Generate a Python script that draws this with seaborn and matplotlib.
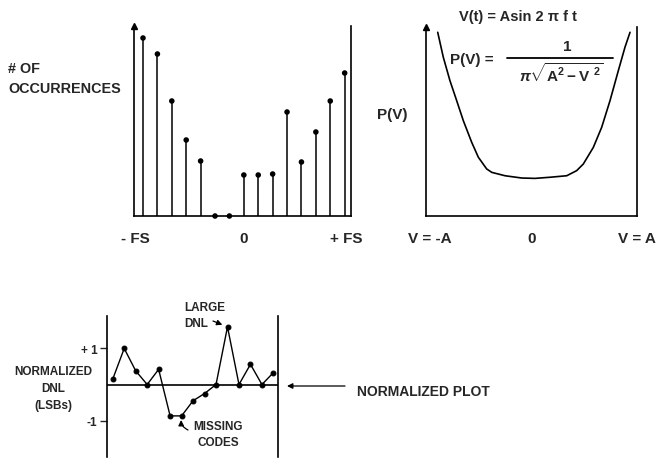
import matplotlib
matplotlib.use("Agg")
import matplotlib.pyplot as plt
import seaborn as sns

# top left: histogram of output codes (counts in arbitrary units)
codes = list(range(15))
occurrences = [178, 162, 115, 76, 55, 0, 0, 41, 41, 42, 104, 54, 84, 115, 143]
hist_tick_pos = [-0.56, 7, 14.1]
hist_ticks = ["- FS", "0", "+ FS"]

# top right: P(V) curve (V relative to A)
v_points = [-0.889, -0.836, -0.773, -0.709, -0.646, -0.567, -0.504, -0.425, -0.377, -0.251,
            -0.093, 0.033, 0.175, 0.334, 0.428, 0.491, 0.586, 0.665, 0.744, 0.823, 0.886, 0.934]
p_points = [0.972, 0.840, 0.716, 0.610, 0.504, 0.390, 0.311, 0.249, 0.231, 0.213,
            0.201, 0.199, 0.205, 0.213, 0.240, 0.275, 0.363, 0.469, 0.610, 0.769, 0.893, 0.972]
pv_tick_pos = [-0.96, 0, 1.0]
pv_ticks = ["V = -A", "0", "V = A"]

# bottom: normalized DNL in LSBs
dnl = [0.15, 1.0, 0.38, 0.0, 0.42, -0.87, -0.87, -0.45, -0.25, 0.0, 1.6, 0.0, 0.56, 0.0, 0.33]
dnl_tick_pos = [1, -1]
dnl_ticks = ["+ 1", "-1"]

sns.set_style("white")
plt.rcParams["font.family"] = ["Liberation Sans", "DejaVu Sans"]
plt.rcParams["font.weight"] = "bold"
plt.rcParams["mathtext.fontset"] = "custom"
plt.rcParams["mathtext.rm"] = "Liberation Sans:bold"
plt.rcParams["mathtext.it"] = "Liberation Sans:bold:italic"
plt.rcParams["mathtext.bf"] = "Liberation Sans:bold"

W, H = 658, 460
fig = plt.figure(figsize=(W / 100, H / 100), dpi=100)


def box(l, t, r, b):
    return [l / W, 1 - b / H, (r - l) / W, (b - t) / H]


def px(x, y):
    return x / W, 1 - y / H


def axis_arrow(ax):
    ax.plot(0, 1, marker="^", color="k", ms=5, transform=ax.transAxes, clip_on=False)


# --- histogram ---
ax1 = fig.add_axes(box(134, 27, 351, 217))
ax1.vlines(codes, 0, occurrences, color="k", lw=1.1)
sns.scatterplot(x=codes, y=occurrences, ax=ax1, color="k", s=16, edgecolor="none")
ax1.collections[-1].set_clip_on(False)
ax1.set_xlim(-0.625, 14.44)
ax1.set_ylim(0, 190)
ax1.set_xticks(hist_tick_pos, hist_ticks)
ax1.set_yticks([])
ax1.tick_params(axis="x", length=0, pad=11, labelsize=11)
axis_arrow(ax1)

# --- P(V) ---
ax2 = fig.add_axes(box(426, 28, 637, 217))
sns.lineplot(x=v_points, y=p_points, ax=ax2, color="k", lw=1.2)
ax2.set_xlim(-1, 1)
ax2.set_ylim(0, 1)
ax2.set_xticks(pv_tick_pos, pv_ticks)
ax2.set_xticks([0], minor=True)
ax2.set_yticks([])
ax2.tick_params(axis="x", which="major", length=0, pad=11, labelsize=11)
ax2.tick_params(axis="x", which="minor", length=5, direction="inout", bottom=True, width=1)
axis_arrow(ax2)

for ax in (ax1, ax2):
    ax.spines["top"].set_visible(False)
    for s in ("left", "bottom", "right"):
        ax.spines[s].set_linewidth(1.2)
        ax.spines[s].set_color("k")

# --- DNL ---
ax3 = fig.add_axes(box(107, 317, 278, 458))
ax3.axhline(0, color="k", lw=1.2)
sns.lineplot(x=codes, y=dnl, ax=ax3, color="k", lw=1, marker="o", ms=3.5, mec="k")
ax3.set_xlim(-0.5, 14.4)
ax3.set_ylim(-2.01, 1.9)
ax3.set_xticks([])
ax3.set_yticks(dnl_tick_pos, dnl_ticks)
ax3.tick_params(axis="y", left=True, length=5, width=1, pad=2, labelsize=8.5)
ax3.spines["top"].set_visible(False)
ax3.spines["bottom"].set_visible(False)
for s in ("left", "right"):
    ax3.spines[s].set_linewidth(1.2)
    ax3.spines[s].set_color("k")

# --- labels ---
fig.text(*px(8, 79), "# OF\nOCCURRENCES", fontsize=10.4, ha="left", va="center", linespacing=1.5)
fig.text(*px(377, 115), "P(V)", fontsize=11, ha="left", va="center")
fig.text(*px(518, 17), "V(t) = Asin 2 π f t", fontsize=10.5, ha="center", va="center")
fig.text(*px(450, 60), "P(V) =", fontsize=11, ha="left", va="center")
fig.text(*px(567, 47), "1", fontsize=11, ha="center", va="center")
fig.add_artist(plt.Line2D([507 / W, 613 / W], [1 - 59 / H, 1 - 59 / H], color="k", lw=1.3))
fig.text(*px(561, 74), r"$\pi\sqrt{\mathrm{A^2-V\ ^2}}$", fontsize=11, ha="center", va="center")

fig.text(*px(53, 389), "NORMALIZED\nDNL\n(LSBs)", fontsize=8.5, ha="center", va="center", linespacing=1.55)
fig.text(*px(184, 316), "LARGE\nDNL", fontsize=8.5, ha="left", va="center", linespacing=1.45)
fig.text(*px(218, 435), "MISSING\nCODES", fontsize=8.5, ha="center", va="center", linespacing=1.45)
fig.text(*px(357, 392), "NORMALIZED PLOT", fontsize=10, ha="left", va="center")

arrow = dict(arrowstyle="-|>", color="k", lw=0.9, mutation_scale=8)
ax3.annotate("", xy=(10, 1.6), xytext=(213, H - 322), textcoords="figure pixels",
             arrowprops=dict(arrow, shrinkA=0, shrinkB=4))
ax3.annotate("", xy=(6, -0.87), xytext=(188, H - 431), textcoords="figure pixels",
             arrowprops=dict(arrow, shrinkA=0, shrinkB=3, connectionstyle="arc3,rad=-0.4"))
ax3.annotate("", xy=(287, H - 387), xycoords="figure pixels", xytext=(345, H - 387),
             textcoords="figure pixels", arrowprops=dict(arrow, shrinkA=0, shrinkB=0))

fig.savefig("out.png", dpi=100)
